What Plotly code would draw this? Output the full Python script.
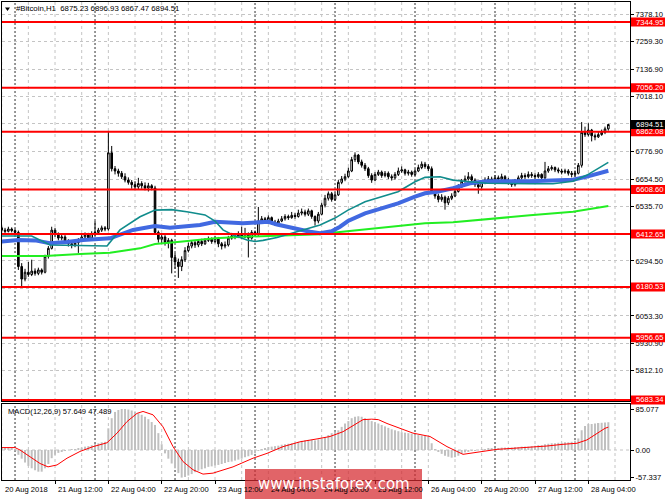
import plotly.graph_objects as go

# ---------------- data ----------------
symbol_title = "#Bitcoin,H1  6875.23 6896.93 6867.47 6894.51"
macd_title = "MACD(12,26,9) 57.649 47.489"

bar_open = [
    6440, 6430, 6425, 6435, 6428, 6420, 6270, 6215, 6245, 6235,
    6250, 6240, 6255, 6245, 6315, 6350, 6430, 6410, 6395, 6400,
    6380, 6370, 6365, 6375, 6385, 6400, 6410, 6395, 6415, 6420,
    6430, 6440, 6435, 6770, 6700, 6690, 6680, 6665, 6650, 6640,
    6630, 6620, 6635, 6625, 6615, 6625, 6615, 6420, 6390, 6400,
    6375, 6385, 6310, 6290, 6270, 6300, 6340, 6360, 6375, 6365,
    6380, 6370, 6385, 6390, 6380, 6395, 6370, 6360, 6365, 6395,
    6405, 6400, 6410, 6400, 6415, 6395, 6420, 6410, 6470, 6480,
    6470, 6485, 6465, 6460, 6470, 6480, 6490, 6485, 6495, 6490,
    6505, 6510, 6500, 6515, 6490, 6470, 6500, 6540, 6570, 6590,
    6565, 6585, 6640, 6655, 6665, 6690, 6740, 6760, 6730, 6715,
    6700, 6670, 6650, 6675, 6685, 6670, 6680, 6665, 6660, 6675,
    6690, 6695, 6680, 6685, 6675, 6690, 6705, 6720, 6710, 6700,
    6600, 6580, 6565, 6575, 6550, 6570, 6580, 6600, 6620, 6645,
    6655, 6665, 6650, 6630, 6620, 6640, 6650, 6655, 6645, 6660,
    6655, 6665, 6650, 6640, 6630, 6645, 6660, 6670, 6665, 6675,
    6670, 6665, 6675, 6660, 6690, 6700, 6705, 6695, 6690, 6685,
    6690, 6680, 6675, 6680, 6715, 6860, 6850, 6870, 6845, 6840,
    6850, 6860, 6875.23,
]
bar_high = [
    6450, 6440, 6445, 6442, 6436, 6428, 6285, 6260, 6290, 6300,
    6262, 6265, 6262, 6322, 6360, 6445, 6440, 6420, 6412, 6408,
    6390, 6380, 6385, 6395, 6410, 6420, 6418, 6425, 6470, 6440,
    6450, 6448, 6866, 6800, 6712, 6700, 6690, 6680, 6662, 6650,
    6645, 6660, 6645, 6640, 6638, 6632, 6625, 6428, 6412, 6408,
    6395, 6392, 6330, 6305, 6315, 6355, 6375, 6385, 6382, 6390,
    6392, 6395, 6402, 6398, 6405, 6400, 6378, 6380, 6405, 6418,
    6415, 6425, 6445, 6440, 6420, 6430, 6428, 6532, 6492, 6488,
    6495, 6490, 6475, 6480, 6492, 6500, 6498, 6510, 6505, 6520,
    6525, 6520, 6525, 6520, 6495, 6510, 6550, 6585, 6600, 6598,
    6595, 6650, 6668, 6678, 6705, 6752, 6772, 6765, 6740, 6725,
    6708, 6680, 6685, 6695, 6692, 6690, 6688, 6675, 6685, 6705,
    6710, 6700, 6695, 6692, 6700, 6718, 6732, 6730, 6720, 6710,
    6608, 6590, 6588, 6582, 6580, 6592, 6612, 6632, 6655, 6670,
    6685, 6675, 6658, 6640, 6650, 6662, 6668, 6665, 6672, 6670,
    6678, 6672, 6660, 6650, 6655, 6670, 6682, 6680, 6688, 6685,
    6680, 6685, 6680, 6730, 6712, 6715, 6710, 6705, 6700, 6700,
    6698, 6690, 6692, 6725, 6905, 6885, 6900, 6875, 6855, 6862,
    6872, 6885, 6896.93,
]
bar_low = [
    6420, 6415, 6420, 6420, 6410, 6255, 6182, 6205, 6225, 6228,
    6230, 6232, 6235, 6240, 6305, 6345, 6400, 6385, 6385, 6370,
    6358, 6350, 6355, 6330, 6378, 6392, 6385, 6390, 6405, 6412,
    6422, 6425, 6428, 6688, 6675, 6665, 6655, 6640, 6630, 6612,
    6608, 6610, 6612, 6605, 6600, 6605, 6410, 6375, 6370, 6362,
    6350, 6240, 6260, 6220, 6250, 6290, 6332, 6350, 6352, 6355,
    6360, 6365, 6378, 6370, 6372, 6355, 6345, 6350, 6358, 6388,
    6390, 6395, 6390, 6395, 6310, 6388, 6400, 6405, 6462, 6458,
    6462, 6455, 6448, 6452, 6465, 6472, 6475, 6480, 6480, 6485,
    6495, 6490, 6492, 6480, 6450, 6460, 6495, 6530, 6560, 6555,
    6558, 6580, 6632, 6645, 6660, 6685, 6730, 6720, 6705, 6690,
    6660, 6638, 6645, 6668, 6660, 6662, 6655, 6648, 6652, 6668,
    6682, 6670, 6670, 6665, 6668, 6685, 6698, 6700, 6690, 6592,
    6568, 6552, 6555, 6520, 6540, 6562, 6575, 6595, 6615, 6638,
    6648, 6640, 6620, 6590, 6612, 6632, 6642, 6635, 6640, 6645,
    6648, 6640, 6630, 6620, 6622, 6638, 6652, 6655, 6658, 6660,
    6655, 6658, 6645, 6655, 6682, 6692, 6685, 6680, 6675, 6678,
    6670, 6662, 6665, 6675, 6705, 6840, 6842, 6820, 6825, 6835,
    6845, 6852, 6867.47,
]
bar_close = [
    6430, 6425, 6435, 6428, 6420, 6270, 6215, 6245, 6235, 6250,
    6240, 6255, 6245, 6315, 6350, 6430, 6410, 6395, 6400, 6380,
    6370, 6365, 6375, 6385, 6400, 6410, 6395, 6415, 6420, 6430,
    6440, 6435, 6770, 6700, 6690, 6680, 6665, 6650, 6640, 6630,
    6620, 6635, 6625, 6615, 6625, 6615, 6420, 6390, 6400, 6375,
    6385, 6310, 6290, 6270, 6300, 6340, 6360, 6375, 6365, 6380,
    6370, 6385, 6390, 6380, 6395, 6370, 6360, 6365, 6395, 6405,
    6400, 6410, 6400, 6415, 6395, 6420, 6410, 6470, 6480, 6470,
    6485, 6465, 6460, 6470, 6480, 6490, 6485, 6495, 6490, 6505,
    6510, 6500, 6515, 6490, 6470, 6500, 6540, 6570, 6590, 6565,
    6585, 6640, 6655, 6665, 6690, 6740, 6760, 6730, 6715, 6700,
    6670, 6650, 6675, 6685, 6670, 6680, 6665, 6660, 6675, 6690,
    6695, 6680, 6685, 6675, 6690, 6705, 6720, 6710, 6700, 6600,
    6580, 6565, 6575, 6550, 6570, 6580, 6600, 6620, 6645, 6655,
    6665, 6650, 6630, 6620, 6640, 6650, 6655, 6645, 6660, 6655,
    6665, 6650, 6640, 6630, 6645, 6660, 6670, 6665, 6675, 6670,
    6665, 6675, 6660, 6690, 6700, 6705, 6695, 6690, 6685, 6690,
    6680, 6675, 6680, 6715, 6860, 6850, 6870, 6845, 6840, 6850,
    6860, 6875.23, 6894.51,
]
bar_index = list(range(len(bar_close)))

# moving averages (vertices: bar index, price)
ma_fast_idx = [0, 9, 14.5, 31.6, 35.5, 41.5, 46, 51, 56, 61, 64, 66.4, 69.4, 73.6, 76, 78.4,
               82.6, 86.5, 90.4, 95.5, 100, 103.9, 109, 114.1, 118.9, 124, 127, 131.5, 135.4,
               140.5, 145.6, 158.5, 165.4, 171.4, 173, 175.6, 182]
ma_fast_val = [6404, 6404, 6365, 6360, 6431, 6489, 6518, 6520, 6510, 6497, 6470, 6431, 6409, 6387,
               6380, 6385, 6398, 6414, 6431, 6453, 6483, 6518, 6555, 6577, 6599, 6643, 6662, 6665,
               6650, 6643, 6636, 6634, 6634, 6645, 6655, 6672, 6728]
ma_mid_idx = [0, 5, 10, 14.5, 19.6, 24.4, 32.5, 39.4, 46, 50.5, 59.5, 64, 72.4, 80, 82.6, 87.4,
              92.5, 95.5, 99, 101.5, 103.9, 109, 114.1, 118.9, 124, 127, 130.6, 135.4, 140.5,
              145.6, 158.5, 165.4, 171.4, 175.6, 182]
ma_mid_val = [6380, 6387, 6385, 6372, 6378, 6387, 6394, 6431, 6448, 6440, 6453, 6467, 6460, 6467,
              6455, 6438, 6423, 6416, 6425, 6445, 6470, 6504, 6526, 6548, 6577, 6592, 6599, 6614,
              6636, 6645, 6645, 6648, 6652, 6665, 6691]
ma_slow_idx = [0, 13, 23.5, 32.5, 41.5, 46, 53.5, 59.5, 64, 72.4, 82.6, 95.5, 100, 127, 135.4,
               145.6, 158.5, 171.4, 182]
ma_slow_val = [6316, 6316, 6325, 6331, 6350, 6369, 6379, 6387, 6394, 6401, 6405, 6412, 6420, 6460,
               6465, 6477, 6495, 6511, 6536]

# MACD main (histogram), one value per bar
macd_main = [
    5, 5, 5, 4, 2, -10, -18, -26, -33, -38,
    -42, -45, -45, -38, -29, -17, -10, -6, -3, -2,
    0, 1, 2, 3, 5, 7, 8, 10, 12, 14,
    16, 17, 45, 66, 79, 83, 85, 85, 84, 82,
    79, 76, 73, 69, 64, 58, 52, 35, 12, -7,
    -18, -28, -38, -48, -57.3, -56, -53, -50, -46, -43,
    -40, -38, -35, -34, -32, -31, -29, -27, -25, -24,
    -22, -20, -18, -15, -13, -10, -7, -2, 2, 4,
    6, 7, 8, 9, 11, 12, 13, 14, 15, 17,
    19, 20, 21, 21, 20, 22, 24, 27, 31, 35,
    38, 41, 48, 55, 60, 66, 69, 70, 69, 66,
    63, 60, 58, 55, 52, 49, 46, 43, 41, 39,
    37, 36, 35, 34, 32, 31, 30, 29, 27, 14,
    2, -4, -8, -12, -14, -16, -15, -12, -8, -5,
    -3, -2, -1, 0, 1, 2, 3, 3, 4, 4,
    5, 5, 5, 5, 6, 6, 7, 7, 7, 8,
    9, 10, 10, 12, 13, 14, 14, 15, 15, 16,
    16, 17, 19, 24, 41, 50, 54, 54, 55, 56,
    56.5, 57, 57.649,
]
# MACD signal line (vertices: bar index, value)
macd_sig_idx = [0, 4, 5.5, 8.5, 11.5, 13.9, 16.6, 19.6, 23.5, 27.4, 31.6, 34.6, 37.6, 40.6, 42.4,
                45.4, 48.4, 51.4, 54.4, 57.4, 60.4, 63.4, 69.4, 75.4, 79.6, 84.4, 89.5, 94.6,
                98.5, 102.4, 106.6, 108.4, 111, 113, 115.6, 119.5, 123.4, 128.5, 133.6, 138.4,
                143.5, 148.6, 153.4, 158.5, 163.6, 168.4, 172.6, 175.6, 178.6, 181, 182]
macd_sig_val = [5, 5, 0, -14, -28, -35, -31, -17, -3, 7, 15, 35, 59, 76, 80, 73, 48, 7, -24, -41,
                -50, -48, -35, -17, -7, 7, 17, 23, 28, 38, 55, 63, 64, 63, 55, 45, 35, 28, 7, -9,
                -3.5, 1.4, 3.5, 5.5, 8.3, 11.8, 14, 21, 35, 45, 47.489]

# horizontal levels (red lines)
levels = [7344.95, 7056.20, 6862.08, 6608.60, 6412.65, 6180.53, 5956.65, 5683.34]
last_price = 6894.51

# price axis ticks
price_ticks = [7378.10, 7259.30, 7136.90, 7018.10, 6897.50, 6776.90, 6654.50, 6535.70,
               6414.90, 6294.50, 6173.90, 6053.30, 5930.90, 5812.10]
price_tick_text = ["7378.10", "7259.30", "7136.90", "7018.10", "", "6776.90", "6654.50",
                   "6535.70", "", "6294.50", "", "6053.30", "5930.90", "5812.10"]
macd_ticks = [85.077, 0.0, -57.337]
macd_tick_text = ["85.077", "0.00", "-57.337"]

# time axis labels
time_label_idx = [0, 16, 32, 48, 64, 80, 96, 112, 128, 144, 160, 176]
time_labels = ["20 Aug 2018", "21 Aug 12:00", "22 Aug 04:00", "22 Aug 20:00", "23 Aug 12:00",
               "24 Aug 04:00", "24 Aug 20:00", "25 Aug 12:00", "26 Aug 04:00", "26 Aug 20:00",
               "27 Aug 12:00", "28 Aug 04:00"]
day_start_idx = [4, 28, 52, 76, 100, 124, 148, 172]
grid_idx = list(range(0, 189, 8))

watermark = "www.instaforex.com"

# ---------------- layout helpers ----------------
W, H = 665, 499
ML, MR, MT, MB = 2, 35, 2, 19
PW = W - ML - MR
PH = H - MT - MB


def px_x(px):
    return (px - ML) / PW


def px_y(py):
    return (H - MB - py) / PH


FONT = "Liberation Sans"
FS = 7.6
XR = [0.09, 188.5]
YR_MAIN = [5678.9, 7432.9]
DOM_MAIN = [px_y(401), 1]


def price_to_paper(p):
    return DOM_MAIN[0] + (p - YR_MAIN[0]) / (YR_MAIN[1] - YR_MAIN[0]) * (DOM_MAIN[1] - DOM_MAIN[0])


fig = go.Figure()

fig.add_trace(go.Candlestick(
    x=bar_index, open=bar_open, high=bar_high, low=bar_low, close=bar_close,
    xaxis="x", yaxis="y", whiskerwidth=0,
    increasing=dict(line=dict(color="black", width=1), fillcolor="white"),
    decreasing=dict(line=dict(color="black", width=1), fillcolor="black"),
    hoverinfo="skip",
))
fig.add_trace(go.Scatter(x=ma_slow_idx, y=ma_slow_val, mode="lines",
                         line=dict(color="#22ee22", width=2), xaxis="x", yaxis="y"))
fig.add_trace(go.Scatter(x=ma_mid_idx, y=ma_mid_val, mode="lines",
                         line=dict(color="#4169E1", width=4), xaxis="x", yaxis="y"))
fig.add_trace(go.Scatter(x=ma_fast_idx, y=ma_fast_val, mode="lines",
                         line=dict(color="#108c8c", width=1.6), xaxis="x", yaxis="y"))

fig.add_trace(go.Bar(x=bar_index, y=macd_main, width=0.6, marker=dict(color="#c0c0c0", line=dict(width=0)),
                     xaxis="x2", yaxis="y2"))
fig.add_trace(go.Scatter(x=macd_sig_idx, y=macd_sig_val, mode="lines",
                         line=dict(color="#ff0000", width=1), xaxis="x2", yaxis="y2"))

shapes = []
# vertical grid
for gi in grid_idx:
    for yr in ("y domain", "y2 domain"):
        shapes.append(dict(type="line", xref="x", yref=yr, x0=gi, x1=gi, y0=0, y1=1,
                           line=dict(color="#c4c4c4", width=1, dash="3px,3px"), layer="below"))
for di in day_start_idx:
    for yr in ("y domain", "y2 domain"):
        shapes.append(dict(type="line", xref="x", yref=yr, x0=di, x1=di, y0=0, y1=1,
                           line=dict(color="#303030", width=1, dash="2px,2px"), layer="below"))
# MACD zero line
shapes.append(dict(type="line", xref="paper", yref="y2", x0=0, x1=1, y0=0, y1=0,
                   line=dict(color="#c4c4c4", width=1, dash="3px,3px"), layer="below"))
# red levels
for lv in levels:
    shapes.append(dict(type="line", xref="paper", yref="y", x0=0, x1=1, y0=lv, y1=lv,
                       line=dict(color="#ff0000", width=2), layer="above"))
for lv in levels:
    shapes.append(dict(type="rect", xref="paper", yref="paper", x0=px_x(631), x1=px_x(665),
                       ysizemode="pixel", yanchor=price_to_paper(lv), y0=-4.5, y1=4.5,
                       fillcolor="#ff0000", line=dict(width=0), layer="above"))
shapes.append(dict(type="rect", xref="paper", yref="paper", x0=px_x(631), x1=px_x(665),
                   ysizemode="pixel", yanchor=price_to_paper(last_price), y0=-4.5, y1=4.5,
                   fillcolor="#000000", line=dict(width=0), layer="above"))
# header triangle
shapes.append(dict(type="path", xref="paper", yref="paper",
                   path=f"M {px_x(5)} {px_y(7.5)} L {px_x(10)} {px_y(7.5)} L {px_x(7.5)} {px_y(11)} Z",
                   fillcolor="black", line=dict(width=0)))
# watermark box
shapes.append(dict(type="rect", xref="paper", yref="paper", x0=px_x(245), x1=px_x(422),
                   y0=px_y(499), y1=px_y(469), fillcolor="rgba(214,40,46,0.72)",
                   line=dict(width=0), layer="above"))

annotations = []
annotations.append(dict(xref="paper", yref="paper", x=px_x(14), y=px_y(9), xanchor="left",
                        yanchor="middle", text=symbol_title, showarrow=False,
                        font=dict(family=FONT, size=7.8, color="black")))
annotations.append(dict(xref="paper", yref="paper", x=px_x(5.5), y=px_y(411.5), xanchor="left",
                        yanchor="middle", text=macd_title, showarrow=False,
                        font=dict(family=FONT, size=FS, color="black")))
for lv in levels:
    annotations.append(dict(xref="paper", yref="paper", x=px_x(633.5), y=price_to_paper(lv),
                            xanchor="left", yanchor="middle", text=f"{lv:.2f}", showarrow=False,
                            font=dict(family=FONT, size=FS, color="white")))
annotations.append(dict(xref="paper", yref="paper", x=px_x(633.5), y=price_to_paper(last_price),
                        xanchor="left", yanchor="middle", text=f"{last_price:.2f}",
                        showarrow=False, font=dict(family=FONT, size=FS, color="white")))
for ti, tl in zip(time_label_idx, time_labels):
    annotations.append(dict(xref="x2", yref="paper", x=max(ti, XR[0] + 0.01), y=px_y(489),
                            xanchor="left", yanchor="middle", xshift=0.5, text=tl,
                            showarrow=False, font=dict(family=FONT, size=FS, color="black")))
annotations.append(dict(xref="paper", yref="paper", x=px_x(333.5), y=px_y(484), xanchor="center",
                        yanchor="middle", text=watermark, showarrow=False,
                        font=dict(family="DejaVu Sans", size=15, color="white")))

fig.update_layout(
    width=W, height=H,
    margin=dict(l=ML, r=MR, t=MT, b=MB),
    paper_bgcolor="white", plot_bgcolor="white",
    font=dict(family=FONT, size=FS, color="black"),
    showlegend=False,
    hovermode=False,
    xaxis=dict(domain=[0, 1], anchor="y", range=XR, showgrid=False, zeroline=False,
               showticklabels=False, ticks="", showline=True, mirror=True,
               linecolor="black", linewidth=1, rangeslider=dict(visible=False)),
    xaxis2=dict(domain=[0, 1], anchor="y2", range=XR, matches="x", showgrid=False,
                zeroline=False, tickmode="array", tickvals=time_label_idx,
                ticktext=[""] * len(time_label_idx), ticks="outside", ticklen=3,
                tickcolor="black", showline=True, mirror=True, linecolor="black", linewidth=1),
    yaxis=dict(domain=DOM_MAIN, anchor="x", range=YR_MAIN, side="right",
               tickmode="array", tickvals=price_ticks, ticktext=price_tick_text,
               ticks="outside", ticklen=3, tickcolor="black", showgrid=True,
               gridcolor="#c4c4c4", griddash="3px,3px", gridwidth=1, zeroline=False,
               showline=True, mirror=True, linecolor="black", linewidth=1,
               tickfont=dict(family=FONT, size=FS, color="black")),
    yaxis2=dict(domain=[0, px_y(404)], anchor="x2", range=[-62.25, 95.45], side="right",
                tickmode="array", tickvals=macd_ticks, ticktext=macd_tick_text,
                ticks="outside", ticklen=3, tickcolor="black", showgrid=False,
                zeroline=False, showline=True, mirror=True, linecolor="black", linewidth=1,
                tickfont=dict(family=FONT, size=FS, color="black")),
    shapes=shapes,
    annotations=annotations,
)

fig.write_html("out.html",
               config={"displayModeBar": False},
               post_script="document.body.style.margin='0';document.body.style.padding='0';")
